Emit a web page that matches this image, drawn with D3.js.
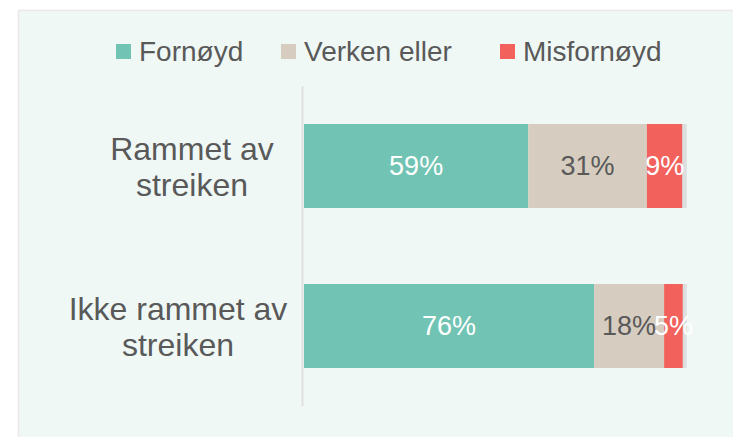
<!DOCTYPE html>
<html>
<head>
<meta charset="utf-8">
<script src="https://cdn.jsdelivr.net/npm/d3@7"></script>
<style>
  body { margin: 0; background: #fff; }
  svg { display: block; font-family: "Liberation Sans", Arial, sans-serif; }
</style>
</head>
<body>
<svg width="733" height="437"></svg>
<script>
const categories = [['Rammet av', 'streiken'], ['Ikke rammet av', 'streiken']];
const seriesNames = ['Fornøyd', 'Verken eller', 'Misfornøyd', 'Vet ikke'];
const fornoyd = [58.6, 75.8];
const verken = [31.0, 18.3];
const misfornoyd = [9.3, 4.9];
const vetIkke = [1.1, 1.0];
const legendNames = ['Fornøyd', 'Verken eller', 'Misfornøyd'];

const colours = ['#71c4b4', '#d6cdc0', '#f2615c', '#dcdfdf'];
const labelColours = ['#ffffff', '#595959', '#ffffff', null];

const svg = d3.select('svg');
// panel background
svg.append('rect')
  .attr('x', 18.5).attr('y', 10.5).attr('width', 740).attr('height', 450)
  .attr('fill', '#eff8f5').attr('stroke', '#e8e8e8').attr('stroke-width', 1.5);

const keys = categories.map(c => c.join(' '));
const rows = keys.map((k, i) => ({
  key: k,
  'Fornøyd': fornoyd[i],
  'Verken eller': verken[i],
  'Misfornøyd': misfornoyd[i],
  'Vet ikke': vetIkke[i]
}));
const stacked = d3.stack().keys(seriesNames)(rows);

const x = d3.scaleLinear().domain([0, 100]).range([304, 686.7]);
const y = d3.scaleBand().domain(keys).range([86, 406]).paddingInner(0.475).paddingOuter(0.2375);

// axis line
svg.append('line')
  .attr('x1', 302.5).attr('x2', 302.5).attr('y1', 86).attr('y2', 406)
  .attr('stroke', '#e2e2e2').attr('stroke-width', 2);

const series = svg.append('g').selectAll('g').data(stacked).join('g')
  .attr('fill', (d, i) => colours[i]);
series.selectAll('rect').data(d => d).join('rect')
  .attr('x', d => x(d[0]))
  .attr('y', d => y(d.data.key))
  .attr('width', d => x(d[1]) - x(d[0]))
  .attr('height', y.bandwidth());

// value labels
stacked.forEach((s, i) => {
  if (!labelColours[i]) return;
  svg.append('g').selectAll('text').data(s).join('text')
    .attr('x', d => (x(d[0]) + x(d[1])) / 2)
    .attr('y', d => y(d.data.key) + y.bandwidth() / 2)
    .attr('dy', '0.35em')
    .attr('text-anchor', 'middle')
    .attr('font-size', 27)
    .attr('fill', labelColours[i])
    .text(d => Math.round(d[1] - d[0]) + '%');
});

// category labels (wrapped, centred per block)
const labelCentre = [192, 178];
const catG = svg.append('g').selectAll('text').data(categories).join('text')
  .attr('text-anchor', 'middle')
  .attr('font-size', 32)
  .attr('fill', '#595959')
  .attr('y', (d, i) => y(keys[i]) + y.bandwidth() / 2);
catG.each(function(d, i) {
  d3.select(this).selectAll('tspan').data(d).join('tspan')
    .attr('x', labelCentre[i])
    .attr('dy', (t, j) => j === 0 ? '-0.2em' : '1.15em')
    .text(t => t);
});

// legend
const legendX = [116, 281, 500];
const legend = svg.append('g').selectAll('g').data(legendNames).join('g')
  .attr('transform', (d, i) => `translate(${legendX[i]},44)`);
legend.append('rect').attr('width', 15).attr('height', 15).attr('fill', (d, i) => colours[i]);
legend.append('text')
  .attr('x', 23).attr('y', 7.5).attr('dy', '0.35em')
  .attr('font-size', 28).attr('fill', '#595959')
  .text(d => d);
</script>
</body>
</html>
